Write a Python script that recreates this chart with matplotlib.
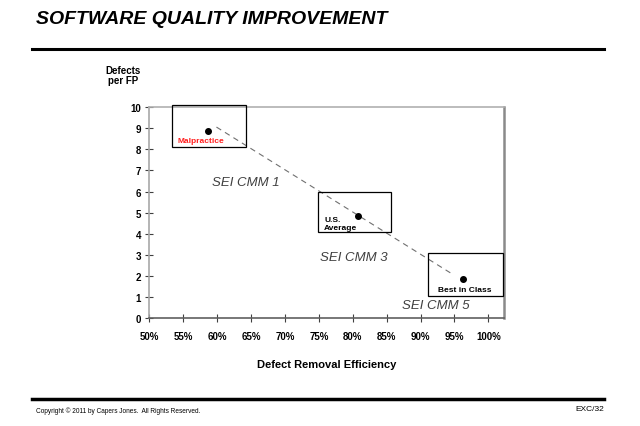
import matplotlib
matplotlib.use("Agg")
import matplotlib.pyplot as plt
from matplotlib.patches import Rectangle
from matplotlib.lines import Line2D

plt.rcParams['font.family'] = ['Liberation Sans', 'DejaVu Sans']

# Data
labels = ["Malpractice", "U.S.\nAverage", "Best in Class"]
dre = [58.6, 80.7, 96.3]          # Defect removal efficiency (%)
defects = [8.88, 4.85, 1.88]      # Defects per FP
trend_x = [59.9, 94.5]
trend_y = [9.05, 2.13]
cmm_labels = ["SEI CMM 1", "SEI CMM 3", "SEI CMM 5"]
cmm_x = [64.3, 80.1, 92.3]
cmm_y = [6.45, 2.9, 0.62]
# boxes: (x0, y0, x1, y1)
boxes = [(53.4, 8.1, 64.2, 10.1), (74.9, 4.08, 85.7, 6.0), (91.1, 1.04, 102.2, 3.08)]
xticks = [50, 55, 60, 65, 70, 75, 80, 85, 90, 95, 100]
yticks = list(range(0, 11))

fig = plt.figure(figsize=(6.4, 4.27), dpi=100)
ax = fig.add_axes([0.2333, 0.2522, 0.5542, 0.4949])
ax.set_xlim(50, 102.3)
ax.set_ylim(0, 10)

for s, c, w in [('left', '#a8a8a8', 1.2), ('bottom', '#606060', 1.2), ('top', '#b0b0b0', 1.2), ('right', '#8a8a8a', 1.8)]:
    ax.spines[s].set_color(c)
    ax.spines[s].set_linewidth(w)

ax.set_xticks(xticks)
ax.set_xticklabels([f"{t}%" for t in xticks])
ax.set_yticks(yticks)
ax.tick_params(direction='inout', length=6, width=0.8, color='#404040',
               labelsize=7)
ax.tick_params(axis='x', pad=6)
ax.tick_params(axis='y', pad=3)
for lab in ax.get_xticklabels() + ax.get_yticklabels():
    lab.set_fontweight('bold')

# trend line
ax.plot(trend_x, trend_y, linestyle=(0, (5, 4)), color='#707070', lw=0.8)

# boxes
for (x0, y0, x1, y1) in boxes:
    ax.add_patch(Rectangle((x0, y0), x1 - x0, y1 - y0, fill=False,
                           edgecolor='black', lw=0.9, zorder=3, clip_on=False))

# points
ax.scatter(dre, defects, s=16, color='black', zorder=4)

# point labels
ax.text(54.1, 8.25, labels[0], color='#ff2020', fontsize=6, fontweight='bold',
        ha='left', va='bottom')
ax.text(75.8, 4.15, labels[1], color='black', fontsize=6, fontweight='bold',
        ha='left', va='bottom', linespacing=1.1)
ax.text(96.5, 1.2, labels[2], color='black', fontsize=6, fontweight='bold',
        ha='center', va='bottom')

for t, x, y in zip(cmm_labels, cmm_x, cmm_y):
    ax.text(x, y, t, fontsize=9.5, style='italic', color='#404040',
            ha='center', va='center')

ax.set_xlabel("Defect Removal Efficiency", fontsize=8, fontweight='bold', labelpad=13)
fig.text(123 / 640, 1 - 76 / 427, "Defects\nper FP", fontsize=7, fontweight='bold',
         ha='center', va='center', linespacing=1.0)

# title and rules
fig.text(36 / 640, 1 - 20 / 427, "SOFTWARE QUALITY IMPROVEMENT", fontsize=14,
         fontweight='bold', style='italic', ha='left', va='center')
fig.add_artist(Line2D([32 / 640, 604 / 640], [1 - 49.5 / 427] * 2, color='black', lw=2.2))
fig.add_artist(Line2D([32 / 640, 604 / 640], [1 - 399.5 / 427] * 2, color='black', lw=2.5))
fig.text(36 / 640, 1 - 411 / 427, "Copyright \u00a9 2011 by Capers Jones.  All Rights Reserved.",
         fontsize=4.7, ha='left', va='center')
fig.text(604 / 640, 1 - 410 / 427, "EXC/32", fontsize=6, ha='right', va='center')

fig.savefig("out.png", dpi=100)
